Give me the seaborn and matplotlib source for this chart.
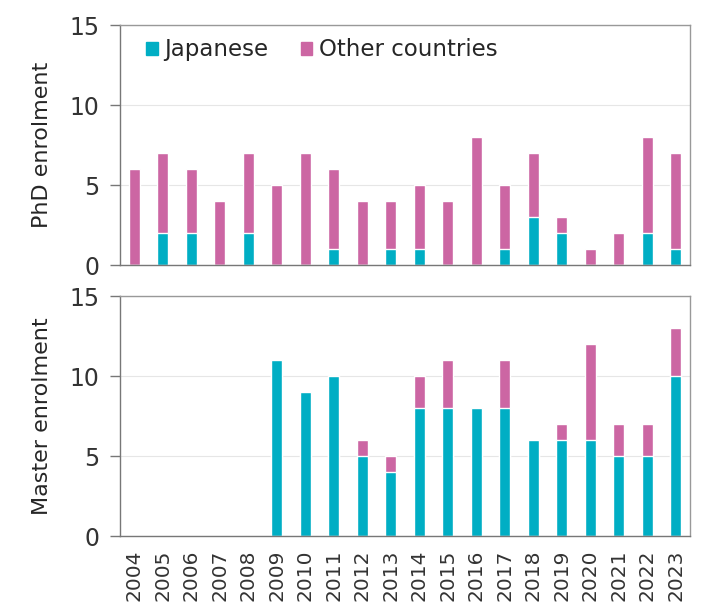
import pandas as pd
import seaborn as sns
import matplotlib.pyplot as plt
from matplotlib.patches import Patch

years = [str(y) for y in range(2004, 2024)]
phd_japanese = [0, 2, 2, 0, 2, 0, 0, 1, 0, 1, 1, 0, 0, 1, 3, 2, 0, 0, 2, 1]
phd_other = [6, 5, 4, 4, 5, 5, 7, 5, 4, 3, 4, 4, 8, 4, 4, 1, 1, 2, 6, 6]
master_japanese = [0, 0, 0, 0, 0, 11, 9, 10, 5, 4, 8, 8, 8, 8, 6, 6, 6, 5, 5, 10]
master_other = [0, 0, 0, 0, 0, 0, 0, 0, 1, 1, 2, 3, 0, 3, 0, 1, 6, 2, 2, 3]

cyan = '#00AEC4'
pink = '#CC66A3'

sns.set_style('white')
plt.rcParams['font.family'] = ['DejaVu Sans']
plt.rcParams['ytick.left'] = True
plt.rcParams['ytick.major.size'] = 6

df = pd.DataFrame({'year': years,
                   'phd_jp': phd_japanese,
                   'phd_total': [a + b for a, b in zip(phd_japanese, phd_other)],
                   'ms_jp': master_japanese,
                   'ms_total': [a + b for a, b in zip(master_japanese, master_other)]})

fig = plt.figure(figsize=(7.08, 6.03), dpi=100)
ax1 = fig.add_axes([0.1695, 0.5605, 0.805, 0.398])
ax2 = fig.add_axes([0.1695, 0.111, 0.805, 0.398])

for ax, jp, tot, label in [(ax1, 'phd_jp', 'phd_total', 'PhD enrolment'),
                           (ax2, 'ms_jp', 'ms_total', 'Master enrolment')]:
    sns.barplot(data=df, x='year', y=tot, color=pink, width=0.38, saturation=1, ax=ax)
    sns.barplot(data=df, x='year', y=jp, color=cyan, width=0.38, saturation=1, ax=ax)
    ax.set_ylim(0, 15)
    ax.set_xlim(-0.5, 19.5)
    ax.set_yticks([0, 5, 10, 15])
    ax.yaxis.grid(True, color='#e6e6e6', lw=0.8)
    ax.set_axisbelow(True)
    ax.set_ylabel(label, fontsize=16, labelpad=12)
    ax.set_xlabel('')
    ax.tick_params(axis='y', labelsize=17, length=7, width=1, color='#777777',
                   left=True, pad=8, labelcolor='#333333')
    ax.tick_params(axis='x', length=0, labelsize=14.5, pad=10, labelcolor='#333333')
    for s in ax.spines.values():
        s.set_color('#999999')
        s.set_linewidth(1)
    ax.spines['left'].set_color('#777777')
    ax.spines['bottom'].set_color('#777777')

ax1.set_xticklabels([])
ax2.set_xticklabels(years, rotation=90)

handles = [Patch(color=cyan, label='Japanese'), Patch(color=pink, label='Other countries')]
ax1.legend(handles=handles, loc='upper left', ncol=2, frameon=False, fontsize=16.5,
           handlelength=0.5, handleheight=0.5, handletextpad=0.3, columnspacing=1.4,
           bbox_to_anchor=(0.01, 1.03))

fig.savefig('out.png', dpi=100)
